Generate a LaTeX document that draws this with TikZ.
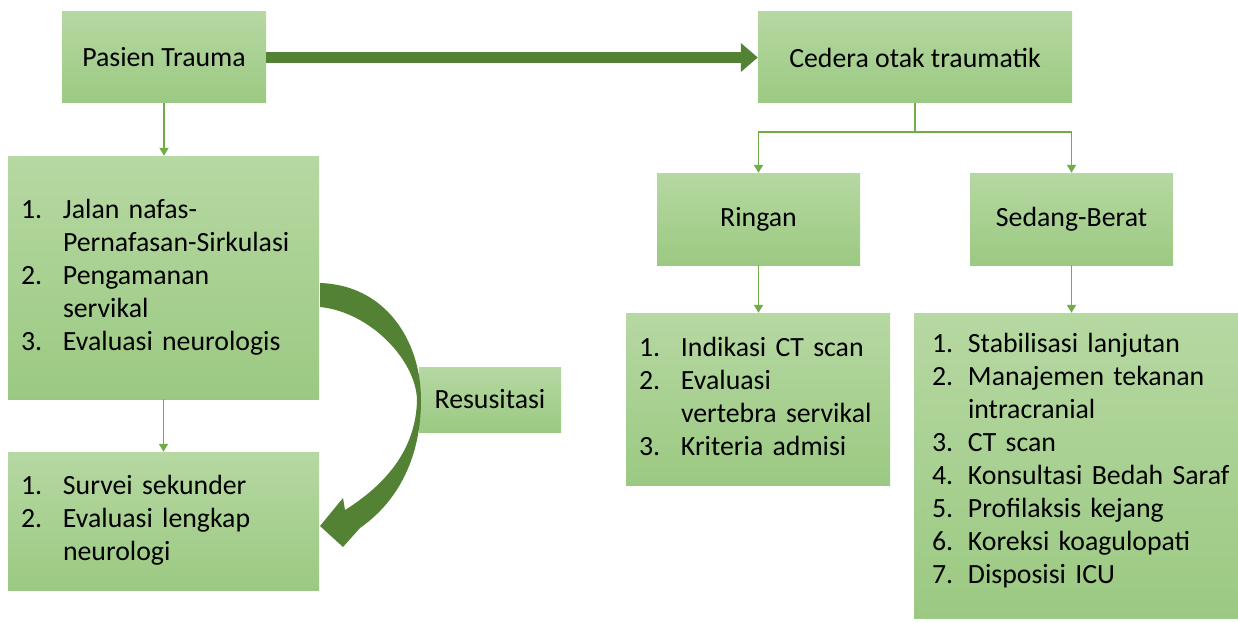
\documentclass[tikz,border=0pt]{standalone}
\usepackage{fontspec}
\setmainfont{Carlito}
\usetikzlibrary{arrows.meta, calc}
\definecolor{boxtop}{RGB}{182,216,162}
\definecolor{boxbot}{RGB}{155,201,130}
\definecolor{linkgreen}{RGB}{112,173,71}
\definecolor{darkgreen}{RGB}{84,130,53}
\newcommand{\boxfont}{\fontsize{27.8}{33}\selectfont}
\newcommand{\listfont}{\fontsize{27.8}{33}\selectfont\spaceskip=6.4pt\relax}

\begin{document}
\begin{tikzpicture}[x=1pt, y=-1pt,
    box/.style={top color=boxtop, bottom color=boxbot, inner sep=0pt,
      font=\boxfont, align=center},
    listbox/.style={box, align=left, font=\listfont},
    link/.style={draw=linkgreen, line width=1.8pt, -{Triangle[width=9pt,length=8pt]}},
    bigarrow/.style={draw=darkgreen, line width=11pt, -{Triangle[width=28pt,length=17pt]}}]

    \useasboundingbox (0,0) rectangle (1238,623);

    % top row
    \node[box, minimum width=204pt, minimum height=91pt] (pasien) at (164,57.5) {Pasien Trauma};
    \node[box, minimum width=314pt, minimum height=91pt] (cedera) at (915,57.5) {Cedera otak traumatik};

    % left column
    \node[listbox, text width=285pt, inner xsep=13pt, minimum height=243pt] (abc) at (163.5,277.5)
      {\begin{tabular}{@{}p{42pt}@{}l@{}}
        1. & Jalan nafas-\\
           & Pernafasan-Sirkulasi\\
        2. & Pengamanan\\
           & servikal\\
        3. & Evaluasi neurologis
      \end{tabular}};
    \node[listbox, text width=285pt, inner xsep=13pt, minimum height=138pt] (survei) at (163.5,521)
      {\begin{tabular}{@{}p{42pt}@{}l@{}}
        1. & Survei sekunder\\
        2. & Evaluasi lengkap\\
           & neurologi
      \end{tabular}};
    \node[box, minimum width=142pt, minimum height=65pt] (resus) at (490,399.5) {Resusitasi};

    % right side
    \node[box, minimum width=203pt, minimum height=92pt] (ringan) at (758.5,219) {Ringan};
    \node[box, minimum width=203pt, minimum height=92pt] (sedang) at (1071.5,219) {Sedang-Berat};
    \node[listbox, text width=238pt, inner xsep=13pt, minimum height=172pt] (rlist) at (758,399)
      {\begin{tabular}{@{}p{42pt}@{}l@{}}
        1. & Indikasi CT scan\\
        2. & Evaluasi\\
           & vertebra servikal\\
        3. & Kriteria admisi
      \end{tabular}};
    \node[listbox, text width=288pt, inner xsep=18pt, minimum height=305pt] (slist) at (1076,465.5)
      {\begin{tabular}{@{}p{36pt}@{}l@{}}
        1. & Stabilisasi lanjutan\\
        2. & Manajemen tekanan\\
           & intracranial\\
        3. & CT scan\\
        4. & Konsultasi Bedah Saraf\\
        5. & Profilaksis kejang\\
        6. & Koreksi koagulopati\\
        7. & Disposisi ICU\rule[-18pt]{0pt}{0pt}
      \end{tabular}};

    % connectors
    \draw[bigarrow] (pasien.east) -- (cedera.west);
    \draw[link] (pasien.south) -- (pasien.south |- abc.north);
    \draw[link] (abc.south) -- (survei.north);
    \draw[link] (cedera.south) -- ++(0,29) -| (ringan.north);
    \draw[link] (cedera.south) -- ++(0,29) -| (sedang.north);
    \draw[link] (ringan.south) -- (ringan.south |- rlist.north);
    \draw[link] (sedang.south) -- (sedang.south |- slist.north);

    % curved block arrow past Resusitasi
    \fill[darkgreen] (320,283) .. controls (385,285) and (421,340) .. (421,400)
      .. controls (421,455) and (400,500) .. (360,528)
      -- (343,547) -- (320,526) -- (343,498) -- (345,510)
      .. controls (385,485) and (416,450) .. (417,400)
      .. controls (416,360) and (370,312) .. (320,307) -- cycle;
\end{tikzpicture}
\end{document}
